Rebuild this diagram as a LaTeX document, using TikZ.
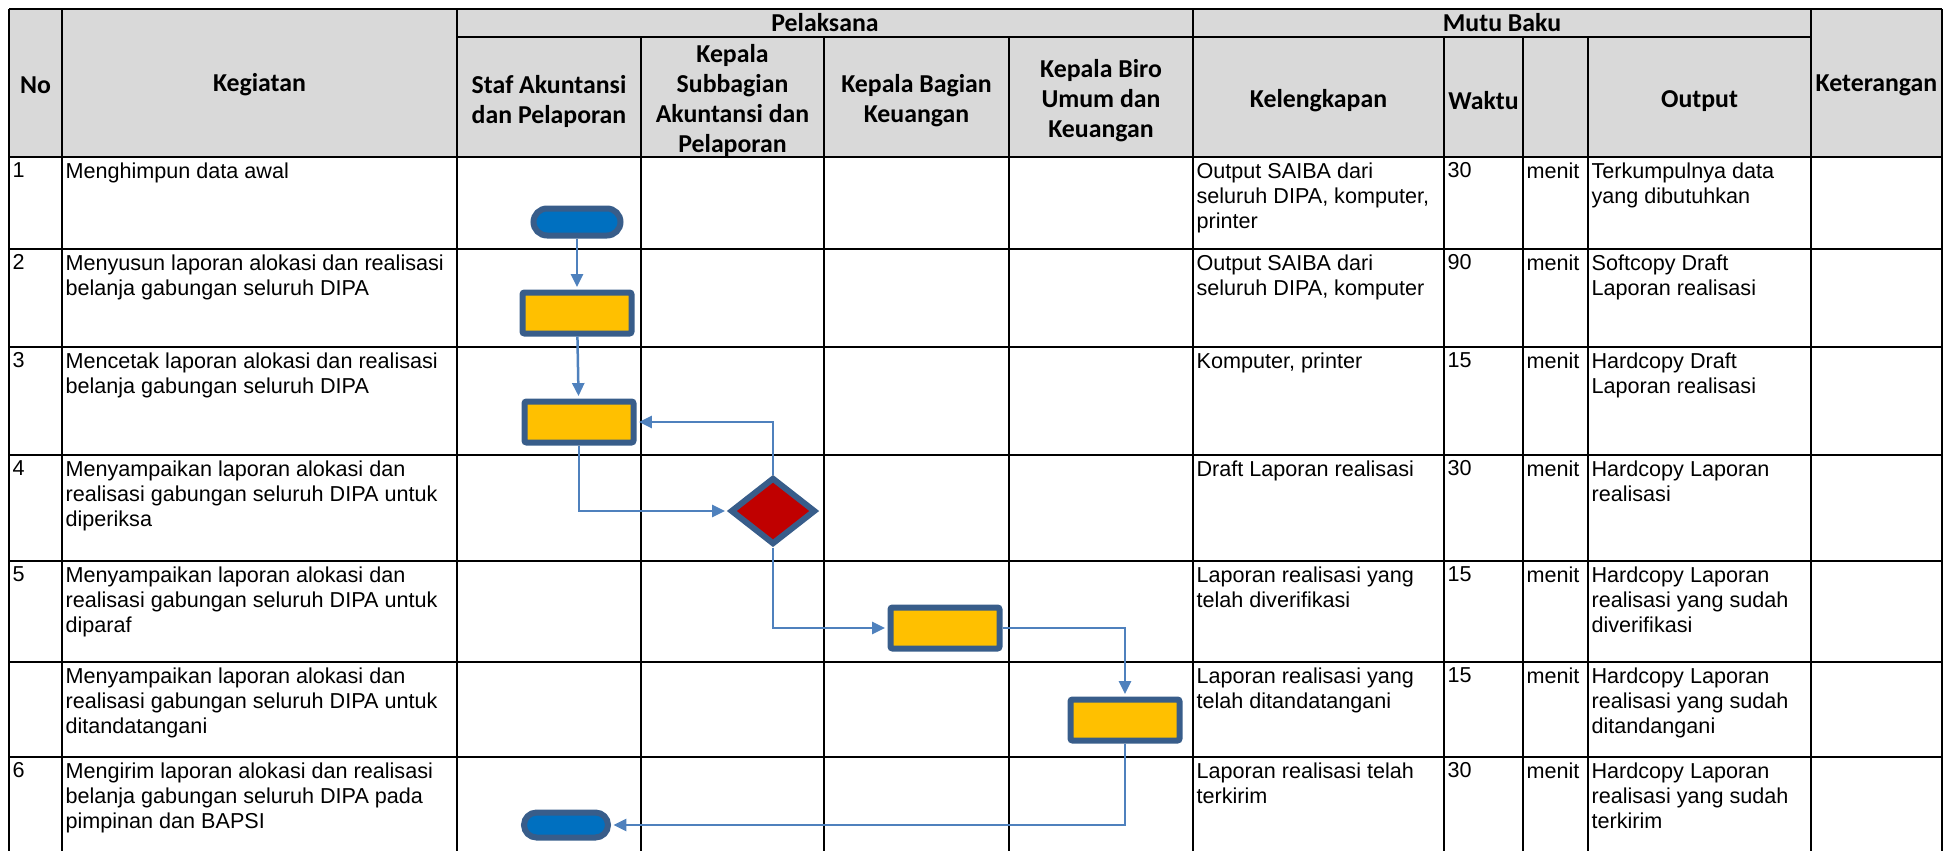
\documentclass[tikz,border=0pt]{standalone}
\usepackage{fontspec}
\setmainfont{Liberation Sans}
\newfontfamily\headfont{Carlito}
\usepackage{xcolor}
\usepackage{tikz}
\usetikzlibrary{arrows.meta,calc,positioning,shapes.geometric,shapes.misc}
\definecolor{headgray}{HTML}{D9D9D9}
\definecolor{linkblue}{HTML}{4F81BD}
\definecolor{edgeblue}{HTML}{385D8A}
\definecolor{startblue}{HTML}{0070C0}
\definecolor{procgold}{HTML}{FFC000}
\definecolor{decred}{HTML}{C00000}
\tikzset{
  gridline/.style={black,line width=1pt},
  headtext/.style={align=center,inner sep=0pt,font=\headfont\bfseries\fontsize{12.9}{15}\selectfont},
  celltext/.style={anchor=north west,align=left,inner xsep=1.6pt,inner ysep=2.5pt,font=\fontsize{10.8}{12.5}\selectfont},
  flowarrow/.style={-{Triangle[length=6.5pt,width=6pt]},linkblue,line width=1.25pt,shorten >=1.2pt},
  termbox/.style={rounded rectangle,draw=edgeblue,line width=3pt,fill=startblue,minimum width=43.5pt,minimum height=13.5pt,inner sep=0pt},
  procbox/.style={rectangle,rounded corners=1pt,draw=edgeblue,line width=3pt,fill=procgold,minimum width=54.5pt,minimum height=20.5pt,inner sep=0pt},
  decbox/.style={diamond,draw=edgeblue,line width=3pt,fill=decred,minimum width=42.5pt,minimum height=33.5pt,inner sep=0pt}
}

\begin{document}
\begin{tikzpicture}[x=0.5pt,y=-0.5pt]
\useasboundingbox (0,0) rectangle (1956,851);
% table frame
\fill[headgray] (9,9) rectangle (1942,157);
\foreach \x in {9,62,457,1193,1811,1942} \draw[gridline] (\x,9)--(\x,851);
\foreach \x in {641,824,1009,1444,1523,1588} \draw[gridline] (\x,37)--(\x,851);
\draw[gridline] (9,9)--(1942,9);
\draw[gridline] (457,37)--(1811,37);
\foreach \y in {157,249,347,455,561,662,757} \draw[gridline] (9,\y)--(1942,\y);
% header
\node[headtext] (hno) at (35.5,85) {No};
\node[headtext] (hkeg) at (259.5,85) {Kegiatan};
\node[headtext] (hpel) at (825,23) {Pelaksana};
\node[headtext] (hmutu) at (1502,23) {Mutu Baku};
\node[headtext] (hket) at (1876.5,85) {Keterangan};
\node[headtext] (hstaf) at (549,101) {Staf Akuntansi\\dan Pelaporan};
\node[headtext] (hsub) at (732.5,100) {Kepala\\Subbagian\\Akuntansi dan\\Pelaporan};
\node[headtext] (hbag) at (916.5,101) {Kepala Bagian\\Keuangan};
\node[headtext] (hbiro) at (1101,101) {Kepala Biro\\Umum dan\\Keuangan};
\node[headtext] (hkel) at (1318.5,101) {Kelengkapan};
\node[headtext] (hwak) at (1483.5,101) {Waktu};
\node[headtext] (hout) at (1699.5,101) {Output};
% rows
\foreach \i/\y/\rn/\rk/\rl/\rw/\ro in {
  1/157/1/{Menghimpun data awal}/{Output SAIBA dari\\seluruh DIPA, komputer,\\printer}/30/{Terkumpulnya data\\yang dibutuhkan},
  2/249/2/{Menyusun laporan alokasi dan realisasi\\belanja gabungan seluruh DIPA}/{Output SAIBA dari\\seluruh DIPA, komputer}/90/{Softcopy Draft\\Laporan realisasi},
  3/347/3/{Mencetak laporan alokasi dan realisasi\\belanja gabungan seluruh DIPA}/{Komputer, printer}/15/{Hardcopy Draft\\Laporan realisasi},
  4/455/4/{Menyampaikan laporan alokasi dan\\realisasi gabungan seluruh DIPA untuk\\diperiksa}/{Draft Laporan realisasi}/30/{Hardcopy Laporan\\realisasi},
  5/561/5/{Menyampaikan laporan alokasi dan\\realisasi gabungan seluruh DIPA untuk\\diparaf}/{Laporan realisasi yang\\telah diverifikasi}/15/{Hardcopy Laporan\\realisasi yang sudah\\diverifikasi},
  6/662/{}/{Menyampaikan laporan alokasi dan\\realisasi gabungan seluruh DIPA untuk\\ditandatangani}/{Laporan realisasi yang\\telah ditandatangani}/15/{Hardcopy Laporan\\realisasi yang sudah\\ditandangani},
  7/757/6/{Mengirim laporan alokasi dan realisasi\\belanja gabungan seluruh DIPA pada\\pimpinan dan BAPSI}/{Laporan realisasi telah\\terkirim}/30/{Hardcopy Laporan\\realisasi yang sudah\\terkirim}}{
  \node[celltext] (no\i) at (9,\y) {\rn};
  \node[celltext] (keg\i) at (62,\y) {\rk};
  \node[celltext] (kel\i) at (1193,\y) {\rl};
  \node[celltext] (wak\i) at (1444,\y) {\rw};
  \node[celltext] (sat\i) at (1523,\y) {menit};
  \node[celltext] (out\i) at (1588,\y) {\ro};
}
% flow
\node[termbox] (mulai) at (577,222) {};
\node[procbox] (susun) at (577,313) {};
\node[procbox] (cetak) at (579,422) {};
\node[decbox] (periksa) at (773,511) {};
\node[procbox] (paraf) at (945,628) {};
\node[procbox] (ttd) at (1125,720) {};
\node[termbox,minimum width=42pt,minimum height=12.5pt] (selesai) at (566,825) {};
\draw[flowarrow] (mulai)--(susun);
\draw[flowarrow] (susun)--(cetak);
\draw[flowarrow] (cetak.south) |- (periksa.west);
\draw[flowarrow] (periksa.north) |- (cetak.east);
\draw[flowarrow] (periksa.south) |- (paraf.west);
\draw[flowarrow] (paraf.east) -| (ttd.north);
\draw[flowarrow] (ttd.south) |- (selesai.east);
\end{tikzpicture}
\end{document}
